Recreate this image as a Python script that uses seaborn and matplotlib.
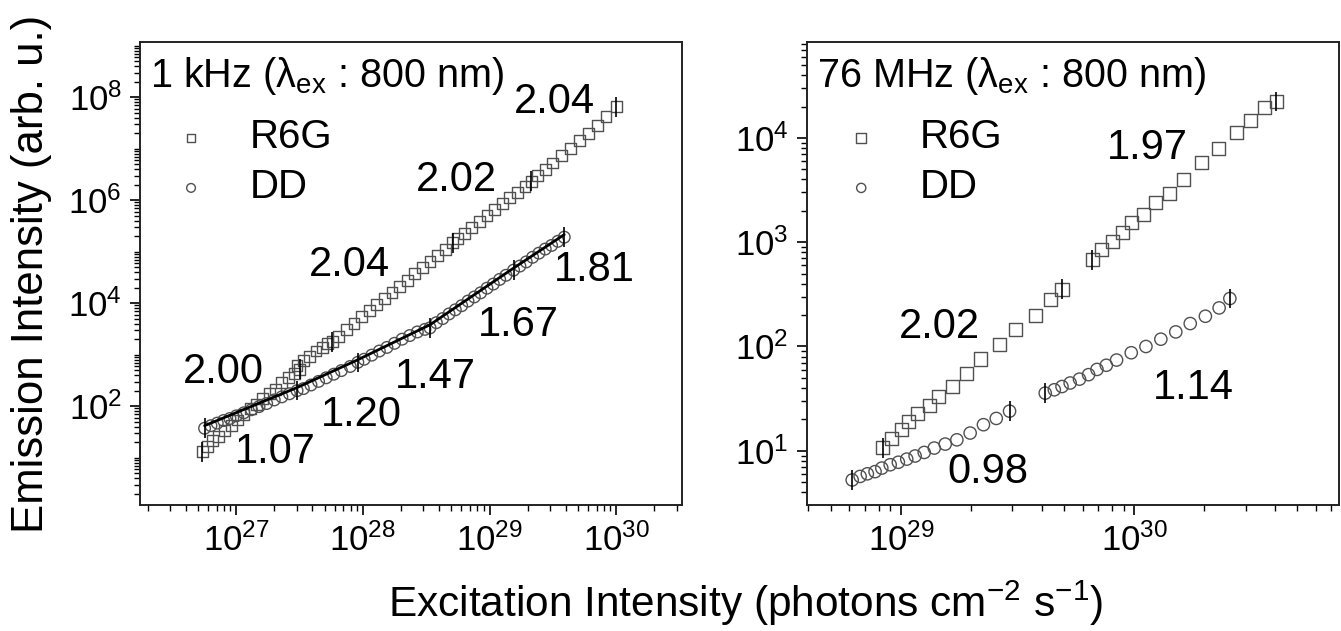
import numpy as np
import matplotlib
matplotlib.use("Agg")
import matplotlib.pyplot as plt
from matplotlib.ticker import LogLocator, NullFormatter
import seaborn as sns

# values, stored as log10 (x: photons cm-2 s-1, y: arb. u.)
# 1 kHz panel
r6g_1k_lx = [26.73, 26.77, 26.81, 26.86, 26.91, 26.96, 27.01, 27.06, 27.11, 27.16,
             27.21, 27.26, 27.31, 27.36, 27.41, 27.46, 27.50, 27.48, 27.53, 27.58,
             27.63, 27.68, 27.72, 27.76, 27.81, 27.87, 27.93, 27.99, 28.05, 28.11,
             28.17, 28.23, 28.29, 28.35, 28.41, 28.47, 28.53, 28.59, 28.65, 28.71,
             28.75, 28.80, 28.86, 28.92, 28.98, 29.04, 29.10, 29.16, 29.22, 29.28,
             29.33, 29.38, 29.44, 29.50, 29.57, 29.64, 29.71, 29.78, 29.85, 29.92, 30.00]
r6g_1k_ly = [1.11, 1.22, 1.33, 1.41, 1.52, 1.62, 1.73, 1.83, 1.95, 2.03,
             2.14, 2.25, 2.33, 2.45, 2.55, 2.64, 2.72, 2.78, 2.88, 2.97,
             3.07, 3.14, 3.21, 3.25, 3.36, 3.48, 3.60, 3.74, 3.85, 3.98,
             4.09, 4.21, 4.33, 4.44, 4.57, 4.69, 4.81, 4.93, 5.05, 5.17,
             5.25, 5.36, 5.46, 5.58, 5.70, 5.82, 5.93, 6.05, 6.15, 6.27,
             6.37, 6.47, 6.60, 6.72, 6.86, 7.01, 7.15, 7.30, 7.45, 7.62, 7.81]
r6g_1k_err = [26.73, 27.50, 27.76, 28.71, 29.33, 30.00]

dd_1k_lx = [26.75, 26.80, 26.85, 26.90, 26.95, 27.00, 27.06, 27.12, 27.18, 27.24,
            27.30, 27.36, 27.42, 27.48, 27.53, 27.59, 27.65, 27.71, 27.77, 27.83,
            27.90, 27.96, 28.01, 28.07, 28.13, 28.19, 28.25, 28.31, 28.37, 28.43,
            28.49, 28.53, 28.58, 28.63, 28.68, 28.73, 28.78, 28.83, 28.88, 28.93,
            28.98, 29.03, 29.08, 29.13, 29.19, 29.24, 29.29, 29.34, 29.39, 29.44,
            29.49, 29.54, 29.59]
dd_1k_ly = [1.57, 1.62, 1.67, 1.72, 1.76, 1.81, 1.87, 1.93, 1.99, 2.05,
            2.12, 2.18, 2.24, 2.30, 2.34, 2.41, 2.48, 2.55, 2.62, 2.69,
            2.77, 2.85, 2.91, 2.99, 3.07, 3.14, 3.22, 3.30, 3.37, 3.44,
            3.49, 3.52, 3.62, 3.70, 3.79, 3.87, 3.95, 4.04, 4.12, 4.20,
            4.29, 4.37, 4.46, 4.54, 4.64, 4.72, 4.80, 4.89, 4.97, 5.05,
            5.12, 5.20, 5.28]
dd_1k_err = [26.75, 27.48, 27.96, 28.53, 29.19, 29.59]
dd_fit_lx = [26.75, 27.48, 27.96, 28.53, 29.19, 29.59]
dd_fit_ly = [1.62, 2.36, 2.90, 3.58, 4.68, 5.33]

# 76 MHz panel
r6g_76m_lx = [28.92, 28.96, 29.00, 29.03, 29.07, 29.12, 29.16, 29.22, 29.28, 29.34,
              29.42, 29.49, 29.575, 29.64, 29.69, 29.82, 29.86, 29.905, 29.95, 29.99,
              30.04, 30.09, 30.15, 30.21, 30.29, 30.36, 30.44, 30.50, 30.56, 30.61]
r6g_76m_ly = [1.03, 1.12, 1.20, 1.28, 1.36, 1.43, 1.52, 1.62, 1.74, 1.88,
              2.02, 2.16, 2.30, 2.45, 2.55, 2.83, 2.93, 3.01, 3.09, 3.19,
              3.27, 3.38, 3.47, 3.60, 3.76, 3.90, 4.05, 4.17, 4.29, 4.35]
r6g_76m_err = [28.92, 29.69, 29.82, 30.61]

dd_76m_lx = [28.79, 28.824, 28.855, 28.888, 28.917, 28.953, 28.988, 29.024, 29.06, 29.099,
             29.142, 29.189, 29.239, 29.296, 29.353, 29.408, 29.465, 29.618, 29.657, 29.69,
             29.725, 29.765, 29.804, 29.84, 29.88, 29.924, 29.987, 30.05, 30.114, 30.178,
             30.24, 30.305, 30.364, 30.41]
dd_76m_ly = [0.72, 0.754, 0.779, 0.80, 0.834, 0.866, 0.89, 0.92, 0.95, 0.984,
             1.026, 1.064, 1.105, 1.17, 1.25, 1.31, 1.38, 1.553, 1.585, 1.616,
             1.65, 1.687, 1.73, 1.78, 1.82, 1.87, 1.94, 2.00, 2.07, 2.14,
             2.22, 2.29, 2.37, 2.46]
dd_76m_err = [28.79, 29.465, 29.618, 30.41]

# slope labels: (text, log x, log y)
slopes_1k = [("2.04", 29.51, 7.90), ("2.02", 28.74, 6.39), ("2.04", 27.89, 4.74),
             ("2.00", 26.90, 2.66), ("1.07", 27.31, 1.11), ("1.20", 27.99, 1.83),
             ("1.47", 28.57, 2.56), ("1.67", 29.23, 3.57), ("1.81", 29.83, 4.64)]
slopes_76m = [("1.97", 30.056, 3.905), ("2.02", 29.163, 2.19),
              ("1.14", 30.253, 1.60), ("0.98", 29.373, 0.80)]

sns.set_style("ticks")
plt.rcParams["font.family"] = ["Liberation Sans", "DejaVu Sans"]
plt.rcParams["mathtext.fontset"] = "custom"
plt.rcParams["mathtext.rm"] = "Liberation Sans"
plt.rcParams["mathtext.it"] = "Liberation Sans:italic"
plt.rcParams["mathtext.bf"] = "Liberation Sans:bold"
plt.rcParams["text.color"] = "black"
plt.rcParams["axes.labelcolor"] = "black"

W, H = 1341, 631
fig = plt.figure(figsize=(W / 100, H / 100), dpi=100)
ax1 = fig.add_axes([140 / W, 1 - 505 / H, 542 / W, 463 / H])
ax2 = fig.add_axes([806.5 / W, 1 - 505 / H, 532 / W, 463 / H])

edge = "#505050"


def draw_set(ax, lx, ly, err, err_dec, marker, size, label):
    x = 10 ** np.array(lx)
    y = 10 ** np.array(ly)
    sns.scatterplot(x=x, y=y, ax=ax, marker=marker, s=size, facecolor="none",
                    edgecolor=edge, linewidth=1.0, label=label, zorder=3)
    m = np.isin(np.array(lx), err)
    ye = y[m]
    ax.errorbar(x[m], ye, yerr=[ye - ye * 10 ** -err_dec, ye * 10 ** err_dec - ye],
                fmt="none", ecolor="black", elinewidth=1.2, capsize=0, zorder=4)


for ax in (ax1, ax2):
    ax.set_xscale("log")
    ax.set_yscale("log")

draw_set(ax1, r6g_1k_lx, r6g_1k_ly, r6g_1k_err, 0.19, "s", 62, "R6G")
draw_set(ax1, dd_1k_lx, dd_1k_ly, dd_1k_err, 0.19, "o", 70, "DD")
sns.lineplot(x=10 ** np.array(dd_fit_lx), y=10 ** np.array(dd_fit_ly), ax=ax1,
             color="black", lw=2, zorder=5)

draw_set(ax2, r6g_76m_lx, r6g_76m_ly, r6g_76m_err, 0.095, "s", 88, "R6G")
draw_set(ax2, dd_76m_lx, dd_76m_ly, dd_76m_err, 0.095, "o", 78, "DD")

ax1.set_xlim(10 ** 26.24, 10 ** 30.52)
ax1.set_ylim(10 ** 0.08, 10 ** 9.07)
ax2.set_xlim(10 ** 28.594, 10 ** 30.876)
ax2.set_ylim(10 ** 0.48, 10 ** 4.92)

ax1.set_xticks([1e27, 1e28, 1e29, 1e30])
ax1.set_yticks([1e2, 1e4, 1e6, 1e8])
ax2.set_xticks([1e29, 1e30])
ax2.set_yticks([1e1, 1e2, 1e3, 1e4])

for ax in (ax1, ax2):
    ax.xaxis.set_minor_locator(LogLocator(base=10, subs=np.arange(1, 10), numticks=60))
    ax.yaxis.set_minor_locator(LogLocator(base=10, subs=np.arange(1, 10), numticks=60))
    ax.xaxis.set_minor_formatter(NullFormatter())
    ax.yaxis.set_minor_formatter(NullFormatter())
    ax.tick_params(which="both", direction="out", top=False, right=False,
                   colors="black", labelcolor="black", labelsize=25)
    ax.tick_params(which="major", length=7, width=1.2, pad=6)
    ax.tick_params(which="minor", length=4, width=1.0)
    for sp in ax.spines.values():
        sp.set_color("#222222")
        sp.set_linewidth(1.4)
    ax.set_xlabel("")
    ax.set_ylabel("")
    ax.legend(loc="upper left", frameon=False, fontsize=29, markerscale=0.75,
              handlelength=1.0, handletextpad=0.95, labelspacing=0.30,
              borderpad=0, borderaxespad=0, labelcolor="black",
              bbox_to_anchor=(0.057 if ax is ax1 else 0.065, 0.835))

for txt, lx, ly in slopes_1k:
    ax1.text(10 ** lx, 10 ** ly, txt, fontsize=30, ha="center", va="center")
for txt, lx, ly in slopes_76m:
    ax2.text(10 ** lx, 10 ** ly, txt, fontsize=30, ha="center", va="center")

ax1.text(0.018, 0.903, r"1 kHz ($\mathrm{\lambda}_{\mathrm{ex}}$ : 800 nm)",
         transform=ax1.transAxes, fontsize=28.5, ha="left", va="baseline")
ax2.text(0.020, 0.903, r"76 MHz ($\mathrm{\lambda}_{\mathrm{ex}}$ : 800 nm)",
         transform=ax2.transAxes, fontsize=28.5, ha="left", va="baseline")

fig.text(746 / W, 1 - 603 / H, r"Excitation Intensity (photons cm$^{-2}$ s$^{-1}$)",
         fontsize=30.5, ha="center", va="center")
fig.text(32 / W, 1 - 274 / H, "Emission Intensity (arb. u.)", fontsize=31.5,
         rotation=90, ha="center", va="center")

fig.savefig("out.png", dpi=100)
